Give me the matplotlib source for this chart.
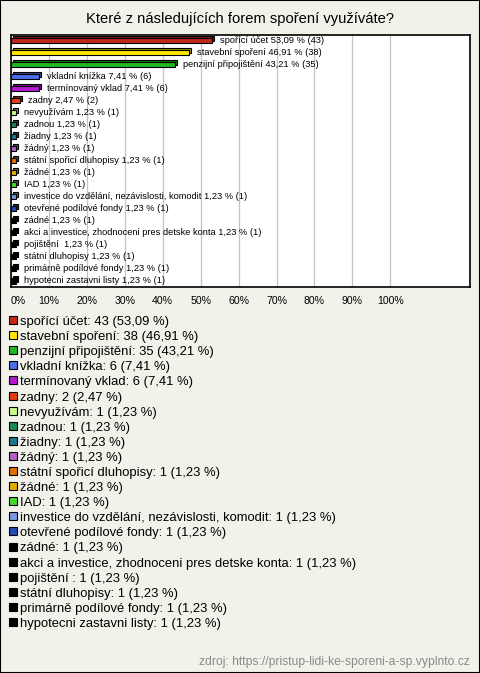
import matplotlib
matplotlib.use("Agg")
import matplotlib.pyplot as plt
import matplotlib.transforms as mtransforms
from matplotlib.patches import Rectangle
from matplotlib.colors import to_rgb

plt.rcParams['font.family'] = ['Liberation Sans', 'DejaVu Sans']

# data
title = "Které z následujících forem spoření využíváte?"
source = "zdroj: https://pristup-lidi-ke-sporeni-a-sp.vyplnto.cz"
total = 81
names = ["spořící účet", "stavební spoření", "penzijní připojištění", "vkladní knížka",
         "termínovaný vklad", "zadny", "nevyužívám", "zadnou", "žiadny", "žádný",
         "státní spořicí dluhopisy", "žádné", "IAD",
         "investice do vzdělání, nezávislosti, komodit", "otevřené podílové fondy",
         "zádné", "akci a investice, zhodnoceni pres detske konta", "pojištění ",
         "státní dluhopisy", "primárně podílové fondy", "hypotecni zastavni listy"]
counts = [43, 38, 35, 6, 6, 2, 1, 1, 1, 1, 1, 1, 1, 1, 1, 1, 1, 1, 1, 1, 1]
colors = ["#c0281a", "#ffe600", "#1fb81f", "#4a6de8", "#b41ad2", "#e2400e",
          "#c8ff8a", "#1a8a52", "#1b7a8c", "#b45fc4", "#e27000", "#e2ac00",
          "#46d82c", "#7898e2", "#2448b4", "#000000", "#000000", "#000000",
          "#000000", "#000000", "#000000"]
ticks = [0, 10, 20, 30, 40, 50, 60, 70, 80, 90, 100]

pcts = [c / total * 100 for c in counts]

def fmt(v):
    return f"{v:.2f}".replace(".", ",")

W, H = 480, 673
fig = plt.figure(figsize=(W / 100, H / 100), dpi=100, facecolor="#f3f2ea")
fig.patches.append(Rectangle((0, 0), 1, 1, transform=fig.transFigure, fill=False,
                             edgecolor="black", linewidth=1.5))

fig.text(0.5, 1 - 19 / H, title, ha="center", va="center", fontsize=10.6)

ax = fig.add_axes([11 / W, 1 - 287 / H, 459 / W, 252 / H])
ax.set_facecolor("white")
for s in ax.spines.values():
    s.set_linewidth(1.2)
n = len(names)
ax.set_xlim(0, 121)
ax.set_ylim(n - 0.5, -0.45)
ax.set_xticks(ticks)
labels = ax.set_xticklabels([f"{t}%" for t in ticks], fontsize=7.6)
labels[0].set_horizontalalignment("left")
ax.tick_params(axis="x", length=0, pad=6.5)
ax.set_yticks([])
ax.grid(axis="x", color="#c4c4c4", linewidth=0.9)
ax.set_axisbelow(True)

back = mtransforms.offset_copy(ax.transData, fig=fig, x=2, y=2, units="dots")
ys = list(range(n))
for i in ys:
    c = to_rgb(colors[i])
    dark = tuple(v * 0.6 for v in c)
    ax.barh(i, pcts[i], height=0.42, left=0, color=dark, edgecolor="black",
            linewidth=0.8, transform=back, zorder=2)
    ax.barh(i, pcts[i], height=0.42, left=0, color=c, edgecolor="black",
            linewidth=0.8, zorder=3)
    ax.annotate(f"{names[i]} {fmt(pcts[i])} % ({counts[i]})", (pcts[i], i),
                xytext=(8, 0), textcoords="offset pixels", va="center",
                ha="left", fontsize=6.7, zorder=4)

# legend
for i in ys:
    yc = 322 + i * 15.1
    fig.patches.append(Rectangle((9 / W, 1 - (yc + 2) / H), 8 / W, 8 / H,
                                 transform=fig.transFigure, facecolor=colors[i],
                                 edgecolor="black", linewidth=0.8))
    fig.text(20 / W, 1 - yc / H, f"{names[i]}: {counts[i]} ({fmt(pcts[i])} %)",
             ha="left", va="center", fontsize=9.4)

fig.text(470 / W, 1 - 662 / H, source, ha="right", va="center", fontsize=8.7,
         color="#8a8a8a")

fig.savefig("out.png", dpi=100, facecolor=fig.get_facecolor())
